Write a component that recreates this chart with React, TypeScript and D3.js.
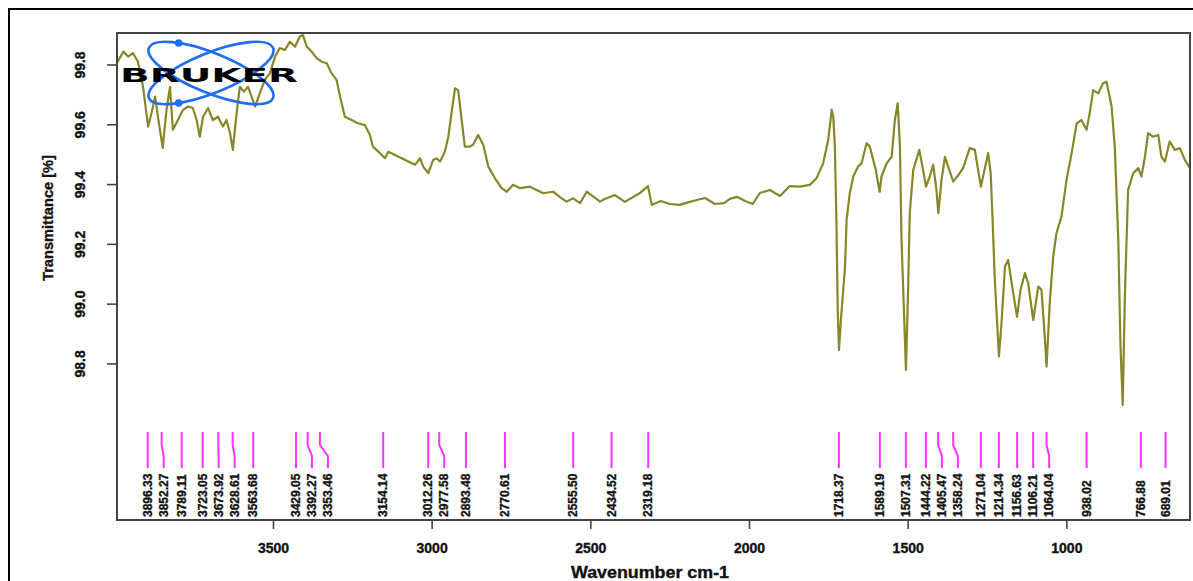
import React from 'react';
import * as d3 from 'd3';

// FT-IR transmittance spectrum, wavenumber (cm-1) vs transmittance (%)
const spectrum: [number, number][] = [
  [3993, 99.807], [3973, 99.845], [3958, 99.828], [3943, 99.84], [3927, 99.811],
  [3911, 99.727], [3895, 99.594], [3884, 99.64], [3873, 99.694], [3864, 99.627],
  [3849, 99.523], [3837, 99.65], [3826, 99.727], [3817, 99.583], [3801, 99.616],
  [3785, 99.65], [3769, 99.661], [3754, 99.656], [3742, 99.616], [3732, 99.56],
  [3722, 99.627], [3706, 99.656], [3691, 99.616], [3675, 99.627], [3659, 99.594],
  [3648, 99.616], [3637, 99.573], [3628, 99.516], [3616, 99.64], [3606, 99.727],
  [3593, 99.711], [3580, 99.727], [3569, 99.694], [3558, 99.661], [3543, 99.706],
  [3527, 99.75], [3511, 99.773], [3495, 99.828], [3480, 99.857], [3464, 99.85],
  [3448, 99.878], [3432, 99.861], [3417, 99.895], [3407, 99.9], [3395, 99.861],
  [3380, 99.845], [3364, 99.823], [3348, 99.811], [3332, 99.806], [3317, 99.772],
  [3301, 99.75], [3290, 99.694], [3275, 99.627], [3254, 99.616], [3234, 99.605],
  [3212, 99.599], [3196, 99.566], [3187, 99.527], [3164, 99.505], [3149, 99.488],
  [3138, 99.51], [3117, 99.499], [3096, 99.488], [3075, 99.477], [3054, 99.466],
  [3038, 99.488], [3028, 99.46], [3012, 99.438], [2997, 99.482], [2986, 99.488],
  [2975, 99.477], [2960, 99.51], [2949, 99.56], [2939, 99.639], [2928, 99.722],
  [2918, 99.716], [2907, 99.616], [2897, 99.527], [2881, 99.527], [2871, 99.533],
  [2855, 99.566], [2839, 99.533], [2823, 99.46], [2802, 99.421], [2781, 99.388],
  [2765, 99.376], [2745, 99.399], [2723, 99.388], [2692, 99.393], [2671, 99.382],
  [2650, 99.371], [2619, 99.376], [2592, 99.354], [2576, 99.343], [2556, 99.354],
  [2534, 99.338], [2513, 99.376], [2492, 99.36], [2471, 99.343], [2456, 99.352],
  [2424, 99.365], [2393, 99.342], [2345, 99.372], [2320, 99.395], [2308, 99.332],
  [2280, 99.345], [2251, 99.335], [2220, 99.332], [2188, 99.342], [2160, 99.35],
  [2140, 99.355], [2109, 99.335], [2080, 99.338], [2062, 99.352], [2040, 99.359],
  [2014, 99.345], [1990, 99.335], [1967, 99.372], [1936, 99.382], [1904, 99.362],
  [1873, 99.395], [1841, 99.393], [1810, 99.399], [1789, 99.421], [1768, 99.471],
  [1752, 99.549], [1741, 99.65], [1736, 99.627], [1731, 99.527], [1726, 99.271],
  [1722, 98.98], [1718, 98.847], [1712, 98.947], [1699, 99.126], [1694, 99.282],
  [1684, 99.371], [1673, 99.427], [1658, 99.46], [1647, 99.471], [1631, 99.538],
  [1621, 99.527], [1602, 99.449], [1590, 99.376], [1584, 99.427], [1568, 99.471],
  [1552, 99.493], [1542, 99.616], [1533, 99.672], [1526, 99.527], [1521, 99.215],
  [1516, 99.059], [1507, 98.78], [1500, 99.059], [1495, 99.304], [1484, 99.449],
  [1465, 99.516], [1453, 99.449], [1444, 99.393], [1432, 99.427], [1421, 99.466],
  [1411, 99.382], [1405, 99.304], [1395, 99.416], [1384, 99.493], [1374, 99.46],
  [1358, 99.41], [1342, 99.432], [1327, 99.455], [1306, 99.522], [1290, 99.516],
  [1271, 99.393], [1264, 99.427], [1248, 99.505], [1240, 99.438], [1234, 99.282],
  [1227, 99.081], [1214, 98.825], [1206, 98.936], [1195, 99.126], [1185, 99.148],
  [1169, 99.037], [1157, 98.958], [1146, 99.048], [1132, 99.104], [1122, 99.07],
  [1106, 98.947], [1090, 99.059], [1080, 99.048], [1069, 98.88], [1064, 98.791],
  [1054, 99.003], [1043, 99.159], [1033, 99.237], [1017, 99.293], [1001, 99.416],
  [985, 99.505], [969, 99.605], [954, 99.616], [938, 99.583], [928, 99.639],
  [917, 99.716], [901, 99.705], [886, 99.739], [875, 99.744], [859, 99.661],
  [849, 99.527], [838, 99.215], [831, 98.858], [824, 98.663], [817, 99.037],
  [807, 99.382], [791, 99.438], [775, 99.455], [765, 99.427], [754, 99.493],
  [744, 99.572], [728, 99.56], [712, 99.566], [702, 99.493], [691, 99.477],
  [676, 99.544], [660, 99.516], [644, 99.522], [628, 99.482], [612, 99.455],
];

// Picked peak positions (cm-1)
const peaks: number[] = [
  3896.33, 3852.27, 3789.11, 3723.05, 3673.92, 3628.61, 3563.68, 3429.05,
  3392.27, 3353.46, 3154.14, 3012.26, 2977.58, 2893.48, 2770.61, 2555.5,
  2434.52, 2319.18, 1718.37, 1589.19, 1507.31, 1444.22, 1405.47, 1358.24,
  1271.04, 1214.34, 1156.63, 1106.21, 1064.04, 938.02, 766.88, 689.01,
];

const xTicks = [3500, 3000, 2500, 2000, 1500, 1000];
const yTicks = [98.8, 99.0, 99.2, 99.4, 99.6, 99.8];
const xDomain: [number, number] = [3993, 612];
const yDomain: [number, number] = [98.278, 99.907];

const W = 1193;
const H = 581;
const plot = { left: 117, top: 33, right: 1190, bottom: 520 };
const font = "'Liberation Sans', Arial, sans-serif";

// point on a rotated ellipse (logo orbit)
function orbitPoint(cx: number, cy: number, rx: number, ry: number, rotDeg: number, tDeg: number) {
  const r = (rotDeg * Math.PI) / 180;
  const t = (tDeg * Math.PI) / 180;
  const ex = rx * Math.cos(t);
  const ey = ry * Math.sin(t);
  return [cx + ex * Math.cos(r) - ey * Math.sin(r), cy + ex * Math.sin(r) + ey * Math.cos(r)];
}

export default function App() {
  const x = d3.scaleLinear().domain(xDomain).range([plot.left, plot.right]);
  const y = d3.scaleLinear().domain(yDomain).range([plot.bottom, plot.top]);

  const line = d3
    .line<[number, number]>()
    .x((d) => x(d[0]))
    .y((d) => y(d[1]));

  // spread the peak labels so neighbours keep a minimum gap
  const minGap = 16;
  const sorted = [...peaks].sort((a, b) => b - a);
  const labelX: number[] = [];
  sorted.forEach((p, i) => {
    const px = x(p);
    labelX.push(i === 0 ? px : Math.max(px, labelX[i - 1] + minGap));
  });

  const fmt2 = d3.format('.2f');
  const fmt1 = d3.format('.1f');

  const logo = { cx: 211, cy: 73, rx: 67, ry: 20, rot: 22 };
  const dotTop = orbitPoint(logo.cx, logo.cy, logo.rx, logo.ry, logo.rot, 232);
  const dotBottom = orbitPoint(logo.cx, logo.cy, logo.rx, logo.ry, -logo.rot, 128);

  const textStyle = {
    fontFamily: font,
    fontWeight: 'bold' as const,
    fill: '#111',
    stroke: '#111',
    strokeWidth: 0.35,
  };

  return (
    <svg
      width={W}
      height={H}
      style={{ position: 'absolute', left: 0, top: 0, background: '#fff' }}
    >
      <rect x={0} y={0} width={W} height={H} fill="#fff" />
      {/* outer frame */}
      <rect x={9} y={9} width={W + 20} height={H + 20} fill="none" stroke="#000" strokeWidth={2} />

      <defs>
        <clipPath id="plotArea">
          <rect x={plot.left} y={plot.top - 4} width={plot.right - plot.left} height={plot.bottom - plot.top + 4} />
        </clipPath>
      </defs>

      {/* spectrum */}
      <path
        d={line(spectrum) || ''}
        fill="none"
        stroke="#878729"
        strokeWidth={2.2}
        strokeLinejoin="round"
        clipPath="url(#plotArea)"
      />

      {/* peak markers and labels */}
      {sorted.map((p, i) => {
        const px = x(p);
        const lx = labelX[i];
        const d = `M${px},432 L${px},445 L${lx},456 L${lx},468`;
        return (
          <g key={p}>
            <path d={d} fill="none" stroke="#ff33ff" strokeWidth={2} />
            <text
              transform={`translate(${lx},517) rotate(-90)`}
              textAnchor="start"
              dominantBaseline="central"
              fontSize={12}
              {...textStyle}
            >
              {fmt2(p)}
            </text>
          </g>
        );
      })}

      {/* plot frame */}
      <rect
        x={plot.left}
        y={plot.top}
        width={plot.right - plot.left}
        height={plot.bottom - plot.top}
        fill="none"
        stroke="#444"
        strokeWidth={2}
      />

      {/* y axis */}
      {yTicks.map((t) => (
        <g key={t}>
          <line x1={plot.left - 10} x2={plot.left} y1={y(t)} y2={y(t)} stroke="#444" strokeWidth={1.6} />
          <text
            transform={`translate(80,${y(t)}) rotate(-90)`}
            textAnchor="middle"
            dominantBaseline="central"
            fontSize={14}
            {...textStyle}
          >
            {fmt1(t)}
          </text>
        </g>
      ))}
      <text
        transform="translate(48,218) rotate(-90)"
        textAnchor="middle"
        dominantBaseline="central"
        fontSize={14}
        textLength={126}
        lengthAdjust="spacingAndGlyphs"
        {...textStyle}
      >
        Transmittance [%]
      </text>

      {/* x axis */}
      {xTicks.map((t) => (
        <g key={t}>
          <line x1={x(t)} x2={x(t)} y1={plot.bottom} y2={plot.bottom + 9} stroke="#444" strokeWidth={1.6} />
          <text x={x(t)} y={553} textAnchor="middle" fontSize={14} {...textStyle}>
            {t}
          </text>
        </g>
      ))}
      <text
        x={650}
        y={578}
        textAnchor="middle"
        fontSize={16}
        textLength={158}
        lengthAdjust="spacingAndGlyphs"
        {...textStyle}
      >
        Wavenumber cm-1
      </text>

      {/* BRUKER logo */}
      <g>
        <ellipse
          cx={logo.cx}
          cy={logo.cy}
          rx={logo.rx}
          ry={logo.ry}
          transform={`rotate(${logo.rot} ${logo.cx} ${logo.cy})`}
          fill="none"
          stroke="#1f6df5"
          strokeWidth={2.6}
        />
        <ellipse
          cx={logo.cx}
          cy={logo.cy}
          rx={logo.rx}
          ry={logo.ry}
          transform={`rotate(${-logo.rot} ${logo.cx} ${logo.cy})`}
          fill="none"
          stroke="#1f6df5"
          strokeWidth={2.6}
        />
        <circle cx={dotTop[0]} cy={dotTop[1]} r={3.8} fill="#1f6df5" />
        <circle cx={dotBottom[0]} cy={dotBottom[1]} r={3.8} fill="#1f6df5" />
        <text
          x={120}
          y={82}
          fontFamily="'DejaVu Sans', sans-serif"
          fontWeight="900"
          fontSize={20}
          textLength={178}
          lengthAdjust="spacingAndGlyphs"
          fill="#000"
        >
          BRUKER
        </text>
      </g>
    </svg>
  );
}
